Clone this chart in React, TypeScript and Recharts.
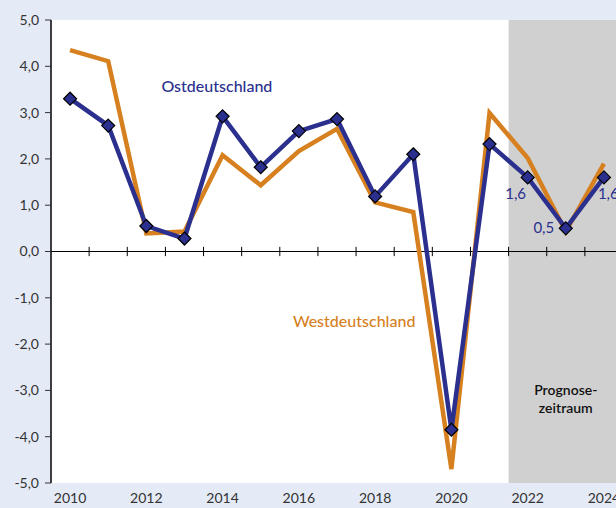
import {
  LineChart, Line, XAxis, YAxis, CartesianGrid, ReferenceArea, ReferenceLine, ReferenceDot, LabelList,
} from 'recharts';

// Wirtschaftswachstum Ost-/Westdeutschland, Veränderung ggü. Vorjahr in %
const YEARS = [2010, 2011, 2012, 2013, 2014, 2015, 2016, 2017, 2018, 2019, 2020, 2021, 2022, 2023, 2024];
const OST = [3.3, 2.72, 0.55, 0.28, 2.92, 1.82, 2.6, 2.86, 1.19, 2.1, -3.85, 2.32, 1.6, 0.5, 1.6];
const WEST = [4.35, 4.11, 0.39, 0.43, 2.08, 1.43, 2.17, 2.65, 1.06, 0.85, -4.7, 2.99, 2.02, 0.43, 1.9];
const X_TICKS = [2010, 2012, 2014, 2016, 2018, 2020, 2022, 2024];
const Y_TICKS = [5, 4, 3, 2, 1, 0, -1, -2, -3, -4, -5];
const PROGNOSE_START = 2021.5;
const LABELLED = [2022, 2023, 2024];

const data = YEARS.map((year, i) => ({ year, ost: OST[i], west: WEST[i] }));
const boundaries = YEARS.map(y => y + 0.5);

const BLUE = '#2b2f8e';
const ORANGE = '#d6801f';
const FONT = 'Lato, "Noto Sans", sans-serif';

const fmt = (v: number) => v.toFixed(1).replace('.', ',');

function Diamond({ cx, cy }: any) {
  if (cx == null || cy == null) return null;
  const s = 6.5;
  return (
    <path
      d={`M${cx},${cy - s} L${cx + s},${cy} L${cx},${cy + s} L${cx - s},${cy} Z`}
      fill={BLUE}
      stroke="#000"
      strokeWidth={1.2}
    />
  );
}

function ValueLabel({ x, y, value, index }: any) {
  const year = YEARS[index];
  if (!LABELLED.includes(year)) return null;
  let dx = -12, dy = 18;
  if (year === 2023) { dx = -22; dy = 1; }
  if (year === 2024) { dx = -6; dy = 18; }
  return (
    <text x={x + dx} y={y + dy} textAnchor={year === 2024 ? 'start' : 'middle'} dominantBaseline="middle"
      fill={BLUE} fontSize={15} fontFamily={FONT}>
      {fmt(value)}
    </text>
  );
}

export default function App() {
  return (
    <div style={{ position: 'fixed', left: 0, top: 0, width: 616, height: 508, overflow: 'hidden', background: '#e4eaf6' }}>
      <LineChart width={624} height={508} data={data} margin={{ top: 20, right: 1, left: 0, bottom: 0 }}>
        <CartesianGrid horizontal={false} vertical={false} fill="#ffffff" />
        <ReferenceArea x1={PROGNOSE_START} x2={2024.5} y1={-5} y2={5} fill="#d0d0d0" fillOpacity={1} stroke="none" />
        <XAxis
          dataKey="year"
          type="number"
          domain={[2009.5, 2024.5]}
          ticks={X_TICKS}
          axisLine={false}
          tickLine={false}
          tickSize={0}
          tickMargin={10}
          height={25}
          tick={{ fill: '#333', fontSize: 14, fontFamily: FONT }}
          allowDataOverflow
        />
        <YAxis
          domain={[-5, 5]}
          ticks={Y_TICKS}
          tickFormatter={fmt}
          width={51}
          axisLine={{ stroke: '#000', strokeWidth: 1.5 }}
          tickLine={{ stroke: '#333' }}
          tickSize={6}
          tickMargin={6}
          tick={{ fill: '#333', fontSize: 14, fontFamily: FONT }}
          interval={0}
        />
        <ReferenceLine y={0} stroke="#000" strokeWidth={1.2} />
        {boundaries.map(b => (
          <ReferenceLine key={b} segment={[{ x: b, y: 0.1 }, { x: b, y: -0.1 }]} stroke="#000" strokeWidth={1} />
        ))}
        <ReferenceDot x={2023} y={-3.0} r={0} fill="none" stroke="none"
          label={{ value: 'Prognose-', fill: '#111', fontSize: 14, fontFamily: FONT, fontWeight: 600, position: 'center' }} />
        <ReferenceDot x={2023} y={-3.37} r={0} fill="none" stroke="none"
          label={{ value: 'zeitraum', fill: '#111', fontSize: 14, fontFamily: FONT, fontWeight: 600, position: 'center' }} />
        <ReferenceDot x={2013.85} y={3.56} r={0} fill="none" stroke="none"
          label={{ value: 'Ostdeutschland', fill: BLUE, fontSize: 16, fontFamily: FONT, fontWeight: 500, position: 'center' }} />
        <ReferenceDot x={2017.45} y={-1.51} r={0} fill="none" stroke="none"
          label={{ value: 'Westdeutschland', fill: ORANGE, fontSize: 16, fontFamily: FONT, fontWeight: 500, position: 'center' }} />
        <Line
          type="linear"
          dataKey="west"
          stroke={ORANGE}
          strokeWidth={4.5}
          dot={false}
          activeDot={false}
          isAnimationActive={false}
        />
        <Line
          type="linear"
          dataKey="ost"
          stroke={BLUE}
          strokeWidth={4.5}
          dot={<Diamond />}
          activeDot={false}
          isAnimationActive={false}
        >
          <LabelList dataKey="ost" content={<ValueLabel />} />
        </Line>
      </LineChart>
    </div>
  );
}
